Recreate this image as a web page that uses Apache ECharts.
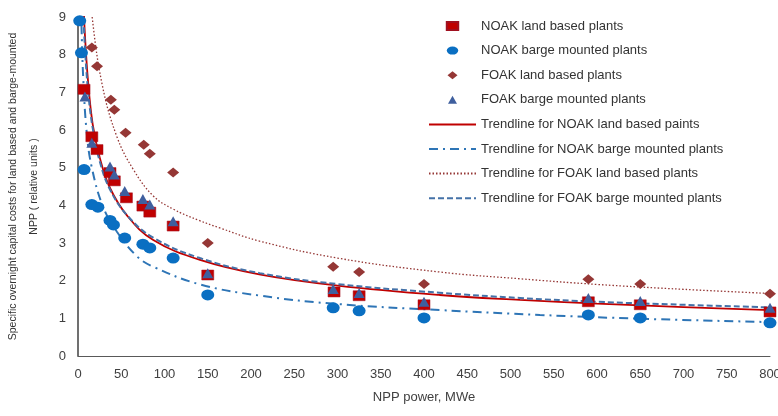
<!DOCTYPE html>
<html>
<head>
<meta charset="utf-8">
<script src="https://cdn.jsdelivr.net/npm/echarts@6/dist/echarts.min.js"></script>
<style>
  html, body { margin: 0; padding: 0; background: #fff; }
  #chart { width: 778px; height: 416px; }
</style>
</head>
<body>
<div id="chart"></div>
<script>
// scatter points (x = MWe, y = relative cost)
const noakLandX = [7, 16, 22, 37, 42, 56, 75, 83, 110, 150, 296, 325, 400, 590, 650, 800];
const noakLandY = [7.08, 5.82, 5.48, 4.87, 4.65, 4.2, 3.98, 3.82, 3.45, 2.15, 1.7, 1.6, 1.36, 1.44, 1.36, 1.17];

const noakBargeX = [2, 4, 7, 16, 23, 37, 41, 54, 75, 83, 110, 150, 295, 325, 400, 590, 650, 800];
const noakBargeY = [8.9, 8.05, 4.95, 4.02, 3.95, 3.6, 3.48, 3.13, 2.97, 2.87, 2.6, 1.62, 1.28, 1.2, 1.01, 1.09, 1.01, 0.88];

const foakLandX = [16, 22, 38, 42, 55, 76, 83, 110, 150, 295, 325, 400, 590, 650, 800];
const foakLandY = [8.19, 7.69, 6.8, 6.54, 5.93, 5.61, 5.37, 4.87, 3.0, 2.37, 2.23, 1.91, 2.04, 1.91, 1.65];

const foakBargeX = [8, 16, 37, 42, 54, 75, 83, 110, 150, 295, 325, 400, 590, 650, 800];
const foakBargeY = [6.89, 5.66, 5.03, 4.82, 4.38, 4.17, 4.02, 3.58, 2.2, 1.78, 1.67, 1.44, 1.54, 1.46, 1.28];

// trendlines at these x positions
const trendNoakLandX = [6, 8, 11.6, 17, 25, 37, 57, 87, 141, 211, 300, 418, 511, 600, 700, 800];
const trendNoakLandY = [9.6, 8.53, 7.3, 6.15, 5.28, 4.46, 3.72, 3.08, 2.55, 2.16, 1.87, 1.62, 1.49, 1.39, 1.3, 1.22];

const trendNoakBargeX = [3, 4, 6, 10, 16, 29, 45, 68, 87, 141, 211, 300, 418, 534, 650, 800];
const trendNoakBargeY = [9.9, 8.8, 7.4, 5.95, 5.0, 3.96, 3.3, 2.65, 2.37, 1.9, 1.6, 1.38, 1.22, 1.09, 0.99, 0.9];

const trendFoakLandX = [12, 16, 28, 45, 64, 87, 110, 140, 164, 210, 300, 418, 511, 600, 700, 800];
const trendFoakLandY = [10.3, 9.07, 7.2, 5.82, 4.95, 4.25, 3.9, 3.6, 3.4, 3.05, 2.6, 2.23, 2.05, 1.9, 1.77, 1.66];

const trendFoakBargeX = [6, 8, 11.6, 17, 25, 37, 57, 87, 141, 210, 300, 418, 511, 600, 700, 800];
const trendFoakBargeY = [9.2, 8.2, 7.05, 6.05, 5.18, 4.42, 3.73, 3.14, 2.6, 2.2, 1.91, 1.68, 1.54, 1.44, 1.36, 1.29];

const xTicks = [0, 800, 50];
const yTicks = [0, 9, 1];

const pairs = (xs, ys) => xs.map((x, i) => [x, ys[i]]);

const font = "'Liberation Sans', Arial, sans-serif";
const textColor = "#404040";
const hideDot = { opacity: 0 };

const chart = echarts.init(document.getElementById("chart"));

const option = {
  animation: false,
  backgroundColor: "#fff",
  grid: { left: 78, right: 8, top: 17, bottom: 60, outerBoundsMode: "none", containLabel: false },
  legend: {
    orient: "vertical",
    left: 423,
    top: 14,
    itemWidth: 47,
    itemHeight: 8,
    itemGap: 10.6,
    symbolKeepAspect: true,
    textStyle: { fontSize: 13, color: "#333", fontFamily: font, lineHeight: 14 },
    data: [
      { name: "NOAK land based plants", icon: "path://M0,0L10,0L10,7L0,7Z" },
      { name: "NOAK barge mounted plants", icon: "path://M0,3.5A5,3.5 0 1,0 10,3.5A5,3.5 0 1,0 0,3.5Z" },
      { name: "FOAK land based plants", icon: "path://M5,0L10,4L5,8L0,4Z" },
      { name: "FOAK barge mounted plants", icon: "path://M4.5,0L9,8L0,8Z" },
      { name: "Trendline for NOAK land based paints", itemStyle: hideDot },
      { name: "Trendline for NOAK barge mounted plants", itemStyle: hideDot },
      { name: "Trendline for FOAK land based plants", itemStyle: hideDot },
      { name: "Trendline for FOAK barge mounted plants", itemStyle: hideDot },
    ],
  },
  xAxis: {
    type: "value",
    min: xTicks[0],
    max: xTicks[1],
    interval: xTicks[2],
    name: "NPP power, MWe",
    nameLocation: "middle",
    nameGap: 35,
    nameTextStyle: { fontSize: 13, color: textColor, fontFamily: font },
    axisLine: { lineStyle: { color: "#595959", width: 1 } },
    axisTick: { show: false },
    splitLine: { show: false },
    axisLabel: { fontSize: 13, color: textColor, fontFamily: font, margin: 12 },
  },
  yAxis: {
    type: "value",
    min: yTicks[0],
    max: yTicks[1],
    interval: yTicks[2],
    name: "Specific overnight capital costs for land based and barge-mounted\nNPP ( relative units )",
    nameLocation: "middle",
    nameGap: 33,
    nameTextStyle: {
      fontSize: 10.5,
      color: "#333",
      fontFamily: font,
      lineHeight: 21,
    },
    axisLine: { show: true, lineStyle: { color: "#404040", width: 1.5 } },
    axisTick: { show: false },
    splitLine: { show: false },
    axisLabel: { fontSize: 13, color: textColor, fontFamily: font, margin: 12 },
  },
  series: [
    {
      name: "Trendline for NOAK land based paints",
      type: "line",
      smooth: 0.4,
      symbol: "none",
      z: 2,
      data: pairs(trendNoakLandX, trendNoakLandY),
      itemStyle: { color: "#c00000" },
      lineStyle: { color: "#c00000", width: 1.8, type: "solid" },
    },
    {
      name: "Trendline for NOAK barge mounted plants",
      type: "line",
      smooth: 0.4,
      symbol: "none",
      z: 2,
      data: pairs(trendNoakBargeX, trendNoakBargeY),
      itemStyle: { color: "#2e75b6" },
      lineStyle: { color: "#2e75b6", width: 2, type: [9, 5, 2, 5] },
    },
    {
      name: "Trendline for FOAK land based plants",
      type: "line",
      smooth: 0.4,
      symbol: "none",
      z: 2,
      data: pairs(trendFoakLandX, trendFoakLandY),
      itemStyle: { color: "#953735" },
      lineStyle: { color: "#953735", width: 1.3, type: [1.5, 2] },
    },
    {
      name: "Trendline for FOAK barge mounted plants",
      type: "line",
      smooth: 0.4,
      symbol: "none",
      z: 2,
      data: pairs(trendFoakBargeX, trendFoakBargeY),
      itemStyle: { color: "#4472a8" },
      lineStyle: { color: "#4472a8", width: 2, type: [6, 3] },
    },
    {
      name: "NOAK land based plants",
      type: "scatter",
      symbol: "rect",
      symbolSize: [12, 10],
      z: 3,
      data: pairs(noakLandX, noakLandY),
      itemStyle: { color: "#c00000", borderColor: "#a01020", borderWidth: 0.5, opacity: 1 },
    },
    {
      name: "NOAK barge mounted plants",
      type: "scatter",
      symbol: "circle",
      symbolSize: [13, 11],
      z: 3,
      data: pairs(noakBargeX, noakBargeY),
      itemStyle: { color: "#0a6fc2", opacity: 1 },
    },
    {
      name: "FOAK land based plants",
      type: "scatter",
      symbol: "diamond",
      symbolSize: [12, 10],
      z: 3,
      data: pairs(foakLandX, foakLandY),
      itemStyle: { color: "#953735", opacity: 1 },
    },
    {
      name: "FOAK barge mounted plants",
      type: "scatter",
      symbol: "triangle",
      symbolSize: [11, 10],
      z: 4,
      data: pairs(foakBargeX, foakBargeY),
      itemStyle: { color: "#3f5f9e", opacity: 1 },
    },
  ],
};

chart.setOption(option);
</script>
</body>
</html>
